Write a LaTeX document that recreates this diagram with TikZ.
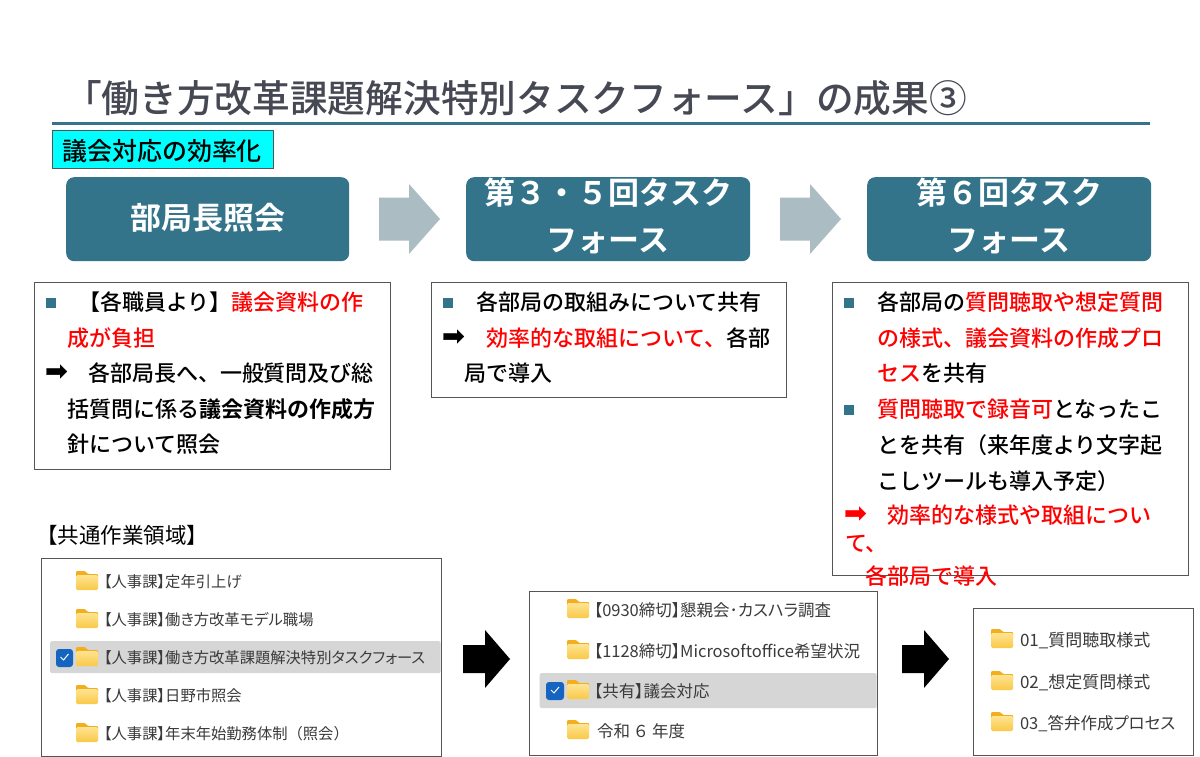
\documentclass[tikz,border=0pt]{standalone}
\usepackage{fontspec}
\setmainfont{Noto Sans CJK JP Medium}
\newfontfamily\medf{Noto Sans CJK JP Bold}
\newfontfamily\headf{Noto Sans CJK JP Bold}
\newfontfamily\titlef{Noto Sans CJK JP Medium}
\newfontfamily\uif{Noto Sans CJK JP}[RawFeature=+palt]
\newfontfamily\uiw{Noto Sans CJK JP}
\newfontfamily\symf{DejaVu Sans}[FakeBold=1.2]
\definecolor{teal}{HTML}{33748A}
\definecolor{grayarrow}{HTML}{ABBCC3}
\definecolor{titlec}{HTML}{464853}
\definecolor{cyanbox}{HTML}{00FFFF}
\definecolor{rowgray}{HTML}{D6D6D6}
\definecolor{checkblue}{HTML}{1565C0}
\definecolor{foldl}{HTML}{FFE493}
\definecolor{foldm}{HTML}{F9C846}
\definecolor{foldd}{HTML}{F2AE1C}
\definecolor{foldtext}{HTML}{3A3A3A}
\definecolor{edgec}{HTML}{555555}
\newcommand{\fs}[1]{\fontsize{#1}{#1}\selectfont}
\newcommand{\rd}[1]{\textcolor{red}{#1}}
\newcommand{\bd}[1]{{\medf #1}}
\newcommand{\ar}[1]{{\symf\fs{27}\textcolor{#1}{➡}}}
\tikzset{
  x=1pt,y=-1pt,
  txt/.style={anchor=west,inner sep=0pt,outer sep=0pt,text height=0pt,text depth=0pt},
  body/.style={txt,font=\fs{22},yshift=-8.4pt},
  marktext/.style={txt,yshift=-7pt},
  folderlabel/.style={txt,font=\uif\fs{15.3},text=foldtext,yshift=-6.4pt},
  labelb/.style={folderlabel,font=\uif\fs{16.5}},
  labelc/.style={folderlabel,font=\uif\fs{17}},
  framebox/.style={draw=edgec,line width=1.2pt,fill=white},
  headbox/.style={fill=teal,rounded corners=8pt},
  headtext/.style={inner sep=0pt,text=white,font=\headf\fs{31}},
  squarebullet/.style={fill=teal,minimum size=9.5pt,inner sep=0pt},
  rowmark/.style={fill=rowgray,rounded corners=1.5pt},
  checkmarkbox/.style={fill=checkblue,rounded corners=3pt}
}
\newcommand{\folder}[2]{% x,y centre
  \fill[foldd,rounded corners=1pt] (#1-11,#2-10) -- (#1-2,#2-10) -- (#1+1,#2-7) -- (#1+11,#2-7) -- (#1+11,#2) -- (#1-11,#2) -- cycle;
  \shade[top color=foldl,bottom color=foldm,rounded corners=1.5pt] (#1-11,#2-6) -- (#1+11,#2-6) -- (#1+11,#2+9) -- (#1-11,#2+9) -- cycle;
}
% x left, x neck, x tip, y centre, half body, half head, colour
\newcommand{\blockarrow}[7]{%
  \fill[#7] (#1,#4-#5) -- (#2,#4-#5) -- (#2,#4-#6) -- (#3,#4) -- (#2,#4+#6) -- (#2,#4+#5) -- (#1,#4+#5) -- cycle;
}
\newcommand{\checkmk}[2]{%
  \draw[white,line width=1pt] (#1-4,#2) -- (#1-1,#2+3) -- (#1+4,#2-3);
}
\begin{document}
\begin{tikzpicture}
\useasboundingbox (0,0) rectangle (1200,757);
\fill[white] (0,0) rectangle (1200,757);

% title
\node[txt,font=\titlef\fs{37.7},text=titlec,yshift=-14.3pt] (title) at (64,98) {「働き方改革課題解決特別タスクフォース」の成果③};
\fill[teal] (52,122) rectangle (1150,125.5);

% tag
\node[draw=edgec,line width=1pt,fill=cyanbox,anchor=north west,minimum width=221pt,minimum height=38pt,inner sep=0pt] (tagbox) at (52,130.5) {};
\node[txt,font=\fs{25},yshift=-9.5pt] (tag) at (62,151) {議会対応の効率化};

% header boxes
\node[headbox,anchor=north west,minimum width=283pt,minimum height=84pt] (h1) at (66,177) {};
\node[headbox,anchor=north west,minimum width=284pt,minimum height=84pt] (h2) at (466,177) {};
\node[headbox,anchor=north west,minimum width=284pt,minimum height=84pt] (h3) at (867,177) {};
\node[headtext] (h1t) at (207.5,218) {部局長照会};
\node[headtext] (h2a) at (608,193) {第３・５回タスク};
\node[headtext] (h2b) at (608,241) {フォース};
\node[headtext] (h3a) at (1009,193) {第６回タスク};
\node[headtext] (h3b) at (1009,241) {フォース};

% grey arrows
\blockarrow{379}{409}{440}{219}{21.5}{35}{grayarrow}
\blockarrow{780}{810}{841}{219}{21.5}{35}{grayarrow}

% text boxes
\node[framebox,anchor=north west,minimum width=356pt,minimum height=187pt,inner sep=0pt] (b1) at (34,282) {};
\node[framebox,anchor=north west,minimum width=355pt,minimum height=115pt,inner sep=0pt] (b2) at (431,282) {};
\node[framebox,anchor=north west,minimum width=356pt,minimum height=293pt,inner sep=0pt] (b3) at (832,282) {};

% box 1
\node[squarebullet] (b1s) at (51,303) {};
\node[body] (b1l1) at (78,302) {【各職員より】\rd{議会資料の作}};
\node[body] (b1l2) at (67,338) {\rd{成が負担}};
\node[marktext] (b1a) at (45,373) {\ar{black}};
\node[body] (b1l3) at (88,373) {各部局長へ、一般質問及び総};
\node[body] (b1l4) at (67,409) {括質問に係る\bd{議会資料の作成方}};
\node[body] (b1l5) at (67,444) {針について照会};

% box 2
\node[squarebullet] (b2s) at (448,303) {};
\node[body] (b2l1) at (476,302) {各部局の取組みについて共有};
\node[marktext] (b2a) at (442,338) {\ar{black}};
\node[body] (b2l2) at (486,338) {\rd{効率的な取組について、}各部};
\node[body] (b2l3) at (464,373) {局で導入};

% box 3
\node[squarebullet] (b3s1) at (849,303) {};
\node[body] (b3l1) at (877,302) {各部局の\rd{質問聴取や想定質問}};
\node[body] (b3l2) at (877,338) {\rd{の様式、議会資料の作成プロ}};
\node[body] (b3l3) at (877,373) {\rd{セス}を共有};
\node[squarebullet] (b3s2) at (849,410) {};
\node[body] (b3l4) at (877,409) {\rd{質問聴取で録音可}となったこ};
\node[body] (b3l5) at (877,445) {とを共有（来年度より文字起};
\node[body] (b3l6) at (877,481) {こしツールも導入予定）};
\node[marktext] (b3a) at (844,515) {\ar{red}};
\node[body] (b3l7) at (887,515) {\rd{効率的な様式や取組につい}};
\node[body] (b3l8) at (845,543) {\rd{て、}};
\node[body] (b3l9) at (865,576) {\rd{各部局で導入}};

% shared area
\node[txt,font=\uiw\fs{21.5},yshift=-8.2pt] (area) at (36,535) {【共通作業領域】};

\node[framebox,anchor=north west,minimum width=400pt,minimum height=198pt,inner sep=0pt] (f1) at (41,557.5) {};
\node[rowmark,anchor=north west,minimum width=390.5pt,minimum height=32pt,inner sep=0pt] (r1) at (50,641) {};
\node[checkmarkbox,minimum width=17pt,minimum height=18pt,inner sep=0pt] (c1) at (64.5,658) {};
\checkmk{64.5}{657}
\folder{87}{581}\folder{87}{619}\folder{87}{657}\folder{87}{695}\folder{87}{733}
\node[folderlabel] (f1a) at (104,581) {【人事課】定年引上げ};
\node[folderlabel] (f1b) at (104,619) {【人事課】働き方改革モデル職場};
\node[folderlabel] (f1c) at (104,657) {【人事課】働き方改革課題解決特別タスクフォース};
\node[folderlabel] (f1d) at (104,695) {【人事課】日野市照会};
\node[folderlabel] (f1e) at (104,733) {【人事課】年末年始勤務体制{\uiw（照会）}};

\node[framebox,anchor=north west,minimum width=348pt,minimum height=164pt,inner sep=0pt] (f2) at (529,591) {};
\node[rowmark,anchor=north west,minimum width=337pt,minimum height=35pt,inner sep=0pt] (r2) at (539.5,673) {};
\node[checkmarkbox,minimum width=18pt,minimum height=18pt,inner sep=0pt] (c2) at (555,691) {};
\checkmk{555}{690}
\folder{578}{609}\folder{578}{650}\folder{578}{690}\folder{578}{730}
\node[labelb] (f2a) at (594,610) {【0930締切】懇親会･カスハラ調査};
\node[labelb] (f2b) at (594,651) {【1128締切】Microsoftoffice希望状況};
\node[labelb] (f2c) at (594,691) {【共有】議会対応};
\node[labelb] (f2d) at (597,731) {令和\,{\uiw ６}\,年度};

\node[framebox,anchor=north west,minimum width=220pt,minimum height=147pt,inner sep=0pt] (f3) at (973,608) {};
\folder{1002}{639}\folder{1002}{681}\folder{1002}{722}
\node[labelc] (f3a) at (1020,640) {01\_質問聴取様式};
\node[labelc] (f3b) at (1020,682) {02\_想定質問様式};
\node[labelb] (f3c) at (1020,723) {03\_答弁作成プロセス};

% black arrows
\blockarrow{463}{485}{510}{659}{14}{29}{black}
\blockarrow{902}{924}{949}{659}{14}{29}{black}
\end{tikzpicture}
\end{document}
